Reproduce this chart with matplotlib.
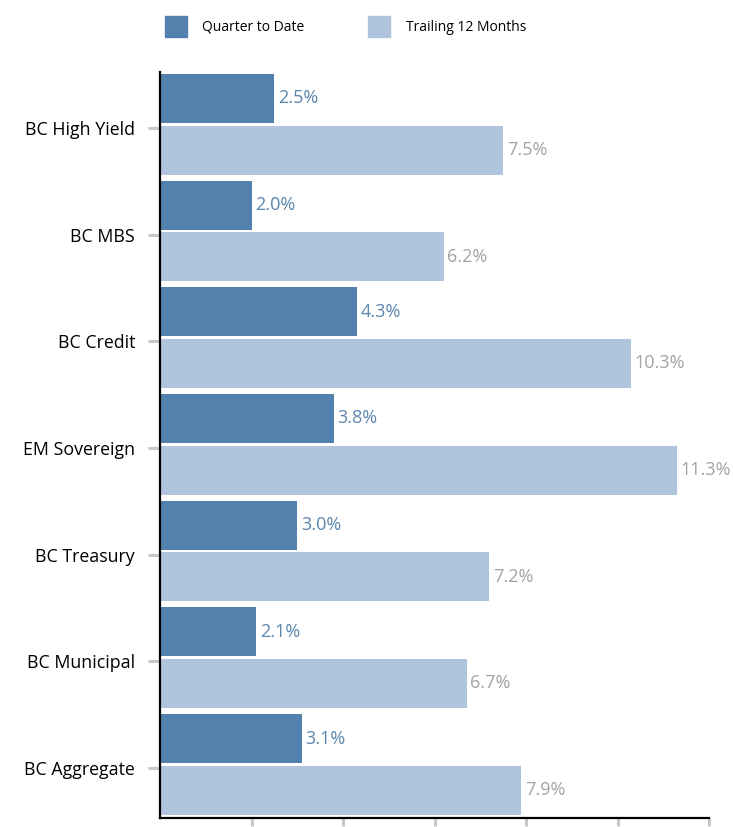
import matplotlib.pyplot as plt
import numpy as np
from matplotlib.patches import Patch

# data
categories = ['BC High Yield', 'BC MBS', 'BC Credit', 'EM Sovereign',
              'BC Treasury', 'BC Municipal', 'BC Aggregate']
qtd = [2.5, 2.0, 4.3, 3.8, 3.0, 2.1, 3.1]
trailing = [7.5, 6.2, 10.3, 11.3, 7.2, 6.7, 7.9]
series_names = ['Quarter to Date', 'Trailing 12 Months']

dark = '#5381AE'
light = '#B0C4DE'

plt.rcParams['font.family'] = ['Open Sans', 'DejaVu Sans']

fig = plt.figure(figsize=(7.33, 8.27), dpi=100)
ax = fig.add_axes([160 / 733, 9 / 827, 549 / 733, 746 / 827])

y = np.arange(len(categories))
h = 0.46
off = 0.242
ax.barh(y - off, qtd, height=h, color=dark)
ax.barh(y + off, trailing, height=h, color=light)

for i in range(len(categories)):
    ax.text(qtd[i] + 0.08, y[i] - off, f'{qtd[i]:.1f}%', va='center',
            ha='left', fontsize=13, color='#5A86AD')
    ax.text(trailing[i] + 0.08, y[i] + off, f'{trailing[i]:.1f}%', va='center',
            ha='left', fontsize=13, color='#A3A3A3')

ax.set_xlim(0, 12)
ax.set_ylim(6.503, -0.49)
ax.set_yticks(y + 0.035)
ax.set_yticklabels(categories, fontsize=12.8)
ax.set_xticks([2, 4, 6, 8, 10, 12])
ax.set_xticklabels([])

ax.spines['top'].set_visible(False)
ax.spines['right'].set_visible(False)
ax.spines['left'].set_linewidth(1.6)
ax.spines['bottom'].set_linewidth(1.6)
ax.tick_params(axis='y', length=9, width=2.2, color='#C8C8C8', pad=9)
ax.tick_params(axis='x', length=6, width=2.2, color='#C8C8C8')

handles = [Patch(color=dark), Patch(color=light)]
fig.legend(handles, series_names, loc='upper left', ncol=2,
           bbox_to_anchor=(152 / 733, 1 - 3 / 827), frameon=False,
           fontsize=10, handlelength=1.6, handleheight=2.0,
           handletextpad=1.1, columnspacing=4.6)

fig.savefig('out.png', dpi=100)
